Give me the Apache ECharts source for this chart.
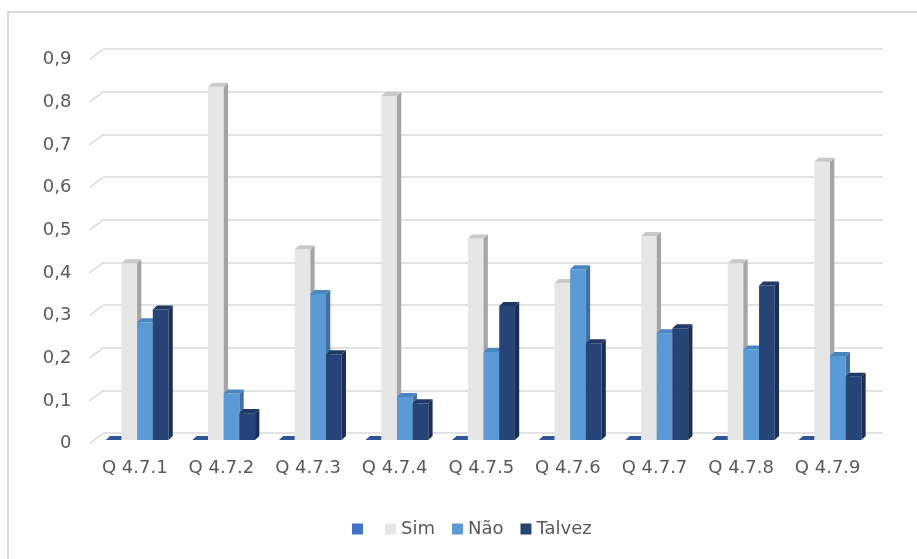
<!DOCTYPE html>
<html>
<head>
<meta charset="utf-8">
<script src="https://cdn.jsdelivr.net/npm/echarts@6/dist/echarts.min.js"></script>
<style>
  html, body { margin: 0; padding: 0; background: #ffffff; }
  #chart { width: 917px; height: 559px; }
</style>
</head>
<body>
<div id="chart"></div>
<script>
// Question labels along the category axis
const categories = ['Q 4.7.1', 'Q 4.7.2', 'Q 4.7.3', 'Q 4.7.4', 'Q 4.7.5', 'Q 4.7.6', 'Q 4.7.7', 'Q 4.7.8', 'Q 4.7.9'];

// Answer shares per question
const blankValues  = [0, 0, 0, 0, 0, 0, 0, 0, 0];
const simValues    = [0.414, 0.828, 0.447, 0.806, 0.472, 0.368, 0.478, 0.414, 0.652];
const naoValues    = [0.276, 0.109, 0.342, 0.101, 0.206, 0.400, 0.250, 0.212, 0.197];
const talvezValues = [0.306, 0.063, 0.201, 0.086, 0.314, 0.227, 0.262, 0.362, 0.148];

// Value axis ticks
const yTicks = [0, 0.1, 0.2, 0.3, 0.4, 0.5, 0.6, 0.7, 0.8, 0.9];

const FONT = 'DejaVu Sans';
const TEXT_COLOR = '#595959';
const GRID_COLOR = '#d9d9d9';

// Depth of the back wall relative to the front plane
const WALL_DX = 14, WALL_DY = 10.5;
// Position of the bars' front face relative to the front plane, and bar depth
const FRONT_DX = 4.3, FRONT_DY = 3.5;
const BAR_DX = 4.3, BAR_DY = 4;
const BAR_RATIO = 0.181;

const seriesDefs = [
  { name: '\u200b', values: blankValues,  front: '#4472C4', side: '#2f5597', top: '#2f5597' },
  { name: 'Sim',    values: simValues,    front: '#E7E6E6', side: '#a5a5a5', top: '#c9c9c9' },
  { name: 'Não',    values: naoValues,    front: '#5B9BD5', side: '#41719c', top: '#4a86bf' },
  { name: 'Talvez', values: talvezValues, front: '#264478', side: '#1b2f55', top: '#1f3864' }
];

function makeBarSeries(def, k) {
  return {
    type: 'custom',
    name: def.name,
    xAxisIndex: 0,
    yAxisIndex: 0,
    itemStyle: { color: def.front },
    encode: { x: 0, y: 1 },
    data: def.values.map((v, i) => [i, v]),
    renderItem: function (params, api) {
      const i = api.value(0);
      const v = api.value(1);
      const base = api.coord([i, 0]);
      const tip = api.coord([i, v]);
      const band = api.size([1, 0])[0];
      const w = band * BAR_RATIO;
      const x0 = base[0] - 2 * w + k * w + FRONT_DX;
      const x1 = x0 + w;
      const yb = base[1] - FRONT_DY;
      const yt = tip[1] - FRONT_DY;
      return {
        type: 'group',
        children: [
          {
            type: 'rect',
            shape: { x: x0, y: yt, width: w, height: yb - yt },
            style: { fill: def.front }
          },
          {
            type: 'polygon',
            shape: { points: [[x1, yt], [x1 + BAR_DX, yt - BAR_DY], [x1 + BAR_DX, yb - BAR_DY], [x1, yb]] },
            style: { fill: def.side }
          },
          {
            type: 'polygon',
            shape: { points: [[x0, yt], [x0 + BAR_DX, yt - BAR_DY], [x1 + BAR_DX, yt - BAR_DY], [x1, yt]] },
            style: { fill: def.top }
          }
        ]
      };
    }
  };
}

// Short slanted segments joining each front tick to its gridline on the back wall
const connectorSeries = {
  type: 'custom',
  name: 'wall-edge',
  xAxisIndex: 0,
  yAxisIndex: 0,
  silent: true,
  z: 1,
  encode: { x: 0, y: 1 },
  data: yTicks.map(v => [0, v]),
  renderItem: function (params, api) {
    const p = api.coord([0, api.value(1)]);
    const band = api.size([1, 0])[0];
    const x = p[0] - band / 2;
    return {
      type: 'line',
      shape: { x1: x, y1: p[1], x2: x + WALL_DX, y2: p[1] - WALL_DY },
      style: { stroke: GRID_COLOR, lineWidth: 1.5 }
    };
  }
};

const chart = echarts.init(document.getElementById('chart'), null, { renderer: 'canvas' });

chart.setOption({
  backgroundColor: '#ffffff',
  animation: false,
  textStyle: { fontFamily: FONT },
  graphic: [
    {
      type: 'rect',
      shape: { x: 8, y: 12, width: 1000, height: 1000 },
      style: { fill: 'none', stroke: GRID_COLOR, lineWidth: 2 },
      silent: true
    }
  ],
  grid: [
    { left: 89.5, top: 59.5, width: 779.5, height: 384 },
    { left: 89.5 + WALL_DX, top: 59.5 - WALL_DY, width: 779.5, height: 384 }
  ],
  xAxis: [
    {
      type: 'category',
      gridIndex: 0,
      data: categories,
      axisLine: { show: false },
      axisTick: { show: false },
      axisLabel: { fontSize: 18, color: TEXT_COLOR, fontFamily: FONT, margin: 16, padding: [0, 0, 0, 4] }
    },
    {
      type: 'category',
      gridIndex: 1,
      data: categories,
      show: false
    }
  ],
  yAxis: [
    {
      type: 'value',
      gridIndex: 0,
      min: 0,
      max: 0.9,
      interval: 0.1,
      axisLine: { show: false },
      axisTick: { show: false },
      splitLine: { show: false },
      axisLabel: {
        fontSize: 18,
        color: TEXT_COLOR,
        fontFamily: FONT,
        margin: 18,
        formatter: v => (v === 0 ? '0' : v.toFixed(1).replace('.', ','))
      }
    },
    {
      type: 'value',
      gridIndex: 1,
      min: 0,
      max: 0.9,
      interval: 0.1,
      axisLine: { show: false },
      axisTick: { show: false },
      axisLabel: { show: false },
      splitLine: { show: true, lineStyle: { color: GRID_COLOR, width: 1.5 } }
    }
  ],
  legend: {
    data: seriesDefs.map(d => d.name),
    left: 347,
    top: 514,
    icon: 'rect',
    itemWidth: 11,
    itemHeight: 11,
    itemGap: 17,
    textStyle: { fontSize: 18, color: TEXT_COLOR, fontFamily: FONT, lineHeight: 20 }
  },
  series: [connectorSeries].concat(seriesDefs.map(makeBarSeries))
});
</script>
</body>
</html>
